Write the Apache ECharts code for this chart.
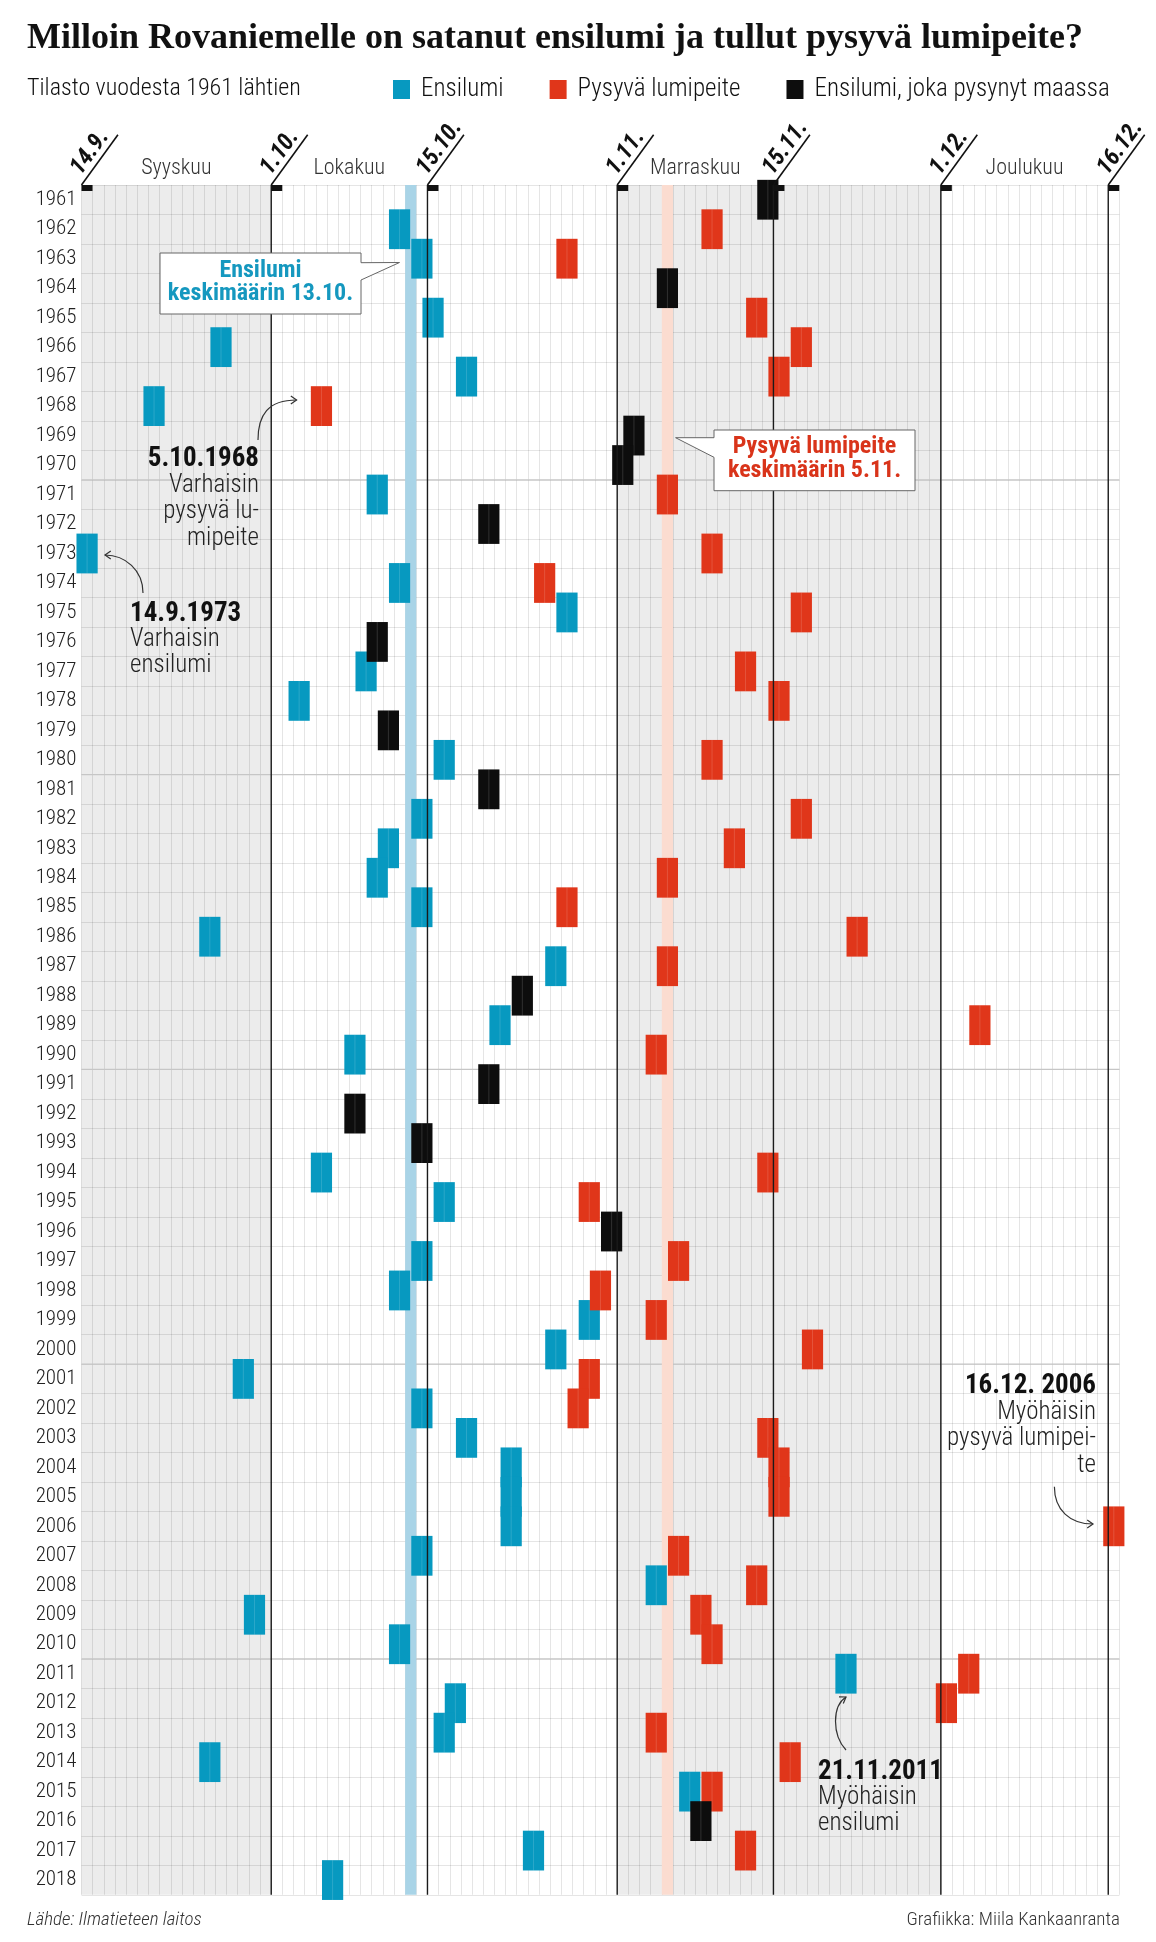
<!DOCTYPE html>
<html lang="fi">
<head>
<meta charset="UTF-8">
<title>Milloin Rovaniemelle on satanut ensilumi ja tullut pysyvä lumipeite?</title>
<script src="https://cdn.jsdelivr.net/npm/echarts@6/dist/echarts.min.js"></script>
<style>
    html, body { margin: 0; padding: 0; background: #fff; }
    #chart { width: 1156px; height: 1942px; }
</style>
</head>
<body>
<div id="chart"></div>
<script>
    const years = [
        '1961', '1962', '1963', '1964', '1965', '1966', '1967', '1968', '1969', '1970',
        '1971', '1972', '1973', '1974', '1975', '1976', '1977', '1978', '1979', '1980',
        '1981', '1982', '1983', '1984', '1985', '1986', '1987', '1988', '1989', '1990',
        '1991', '1992', '1993', '1994', '1995', '1996', '1997', '1998', '1999', '2000',
        '2001', '2002', '2003', '2004', '2005', '2006', '2007', '2008', '2009', '2010',
        '2011', '2012', '2013', '2014', '2015', '2016', '2017', '2018'
    ];
    // ensilumen päivä
    const ensilumi = [
        '14.11.', '12.10.', '14.10.', '5.11.', '15.10.', '26.9.', '18.10.', '20.9.', '2.11.', '1.11.',
        '10.10.', '20.10.', '14.9.', '12.10.', '27.10.', '10.10.', '9.10.', '3.10.', '11.10.', '16.10.',
        '20.10.', '14.10.', '11.10.', '10.10.', '14.10.', '25.9.', '26.10.', '23.10.', '21.10.', '8.10.',
        '20.10.', '8.10.', '14.10.', '5.10.', '16.10.', '31.10.', '14.10.', '12.10.', '29.10.', '26.10.',
        '28.9.', '14.10.', '18.10.', '22.10.', '22.10.', '22.10.', '14.10.', '4.11.', '29.9.', '12.10.',
        '21.11.', '17.10.', '16.10.', '25.9.', '7.11.', '8.11.', '24.10.', '6.10.'
    ];
    // pysyvän lumipeitteen päivä (2018 puuttuu)
    const pysyva = [
        '14.11.', '9.11.', '27.10.', '5.11.', '13.11.', '17.11.', '15.11.', '5.10.', '2.11.', '1.11.',
        '5.11.', '20.10.', '9.11.', '25.10.', '17.11.', '10.10.', '12.11.', '15.11.', '11.10.', '9.11.',
        '20.10.', '17.11.', '11.11.', '5.11.', '27.10.', '22.11.', '5.11.', '23.10.', '4.12.', '4.11.',
        '20.10.', '8.10.', '14.10.', '14.11.', '29.10.', '31.10.', '6.11.', '30.10.', '4.11.', '18.11.',
        '29.10.', '28.10.', '14.11.', '15.11.', '15.11.', '16.12.', '6.11.', '13.11.', '8.11.', '9.11.',
        '3.12.', '1.12.', '4.11.', '16.11.', '9.11.', '8.11.', '12.11.', null
    ];
    const tickDates = ['14.9.', '1.10.', '15.10.', '1.11.', '15.11.', '1.12.', '16.12.'];
    const lineDates = ['1.10.', '15.10.', '1.11.', '15.11.', '1.12.', '16.12.'];
    const monthNames = ['Syyskuu', 'Lokakuu', 'Marraskuu', 'Joulukuu'];
    const monthSpans = [['14.9.', '1.10.'], ['1.10.', '15.10.'], ['1.11.', '15.11.'], ['1.12.', '16.12.']];
    const shadedSpans = [['14.9.', '1.10.'], ['1.11.', '1.12.']];
    const decadeStarts = ['1971', '1981', '1991', '2001', '2011'];
    const ensilumiMean = '13.10.';
    const pysyvaMean = '5.11.';

    const FONT = "'Roboto Condensed', Roboto, sans-serif";
    const BLUE = '#0799c0', RED = '#e0361a', BLACK = '#0d0d0d';

    // päiväindeksi kuvan omalla asteikolla: 14.9. = 0 (alkuperäisessä marraskuusta puuttuu yksi päivä)
    const monthBase = { 9: -14, 10: 16, 11: 47, 12: 76 };
    function dayIndex(s) {
        const parts = s.split('.');
        return monthBase[+parts[1]] + (+parts[0]);
    }

    const blueData = [], redData = [], blackData = [];
    years.forEach((y, k) => {
        const e = ensilumi[k], p = pysyva[k];
        if (p && e === p) {
            blackData.push([dayIndex(e), k]);
        } else {
            blueData.push([dayIndex(e), k]);
            if (p) redData.push([dayIndex(p), k]);
        }
    });

    function markerItem(params, api) {
        const c = api.coord([api.value(0) + 0.5, api.value(1)]);
        const s = api.size([1, 1]);
        const w = s[0] * 1.9, h = s[1] * 1.35;
        return {
            type: 'group',
            children: [
                { type: 'rect', shape: { x: c[0] - w / 2, y: c[1] - h / 2, width: w, height: h }, style: { fill: api.visual('color') } },
                { type: 'line', shape: { x1: c[0], y1: c[1] - h / 2, x2: c[0], y2: c[1] + h / 2 }, style: { stroke: 'rgba(255,255,255,0.15)', lineWidth: 1 } }
            ]
        };
    }

    function bandItem(color) {
        return function (params, api) {
            const cs = params.coordSys;
            const x0 = api.coord([api.value(0), 0])[0];
            const x1 = api.coord([api.value(0) + 1, 0])[0];
            return { type: 'rect', shape: { x: x0, y: cs.y, width: x1 - x0, height: cs.height }, style: { fill: color } };
        };
    }

    function arrow(x1, y1, cx1, cy1, cx2, cy2, x2, y2) {
        const a = Math.atan2(y2 - cy2, x2 - cx2);
        const L = 7, sp = 0.6;
        return [
            { type: 'bezierCurve', z: 10, shape: { x1: x1, y1: y1, cpx1: cx1, cpy1: cy1, cpx2: cx2, cpy2: cy2, x2: x2, y2: y2 }, style: { stroke: '#333', lineWidth: 1.2, fill: 'none' } },
            { type: 'polyline', z: 10, shape: { points: [[x2 - L * Math.cos(a - sp), y2 - L * Math.sin(a - sp)], [x2, y2], [x2 - L * Math.cos(a + sp), y2 - L * Math.sin(a + sp)]] }, style: { stroke: '#333', lineWidth: 1.2, fill: 'none' } }
        ];
    }

    function note(x, y, align, head, body, lh) {
        return [
            { type: 'text', z: 10, x: x, y: y, style: { text: head, fontFamily: FONT, fontWeight: 'bold', fontSize: 27, fill: '#111', align: align, verticalAlign: 'middle' } },
            { type: 'text', z: 10, x: x, y: y + 13, style: { text: body, fontFamily: FONT, fontWeight: 300, fontSize: 25, lineHeight: lh, fill: '#222', align: align, verticalAlign: 'top' } }
        ];
    }

    const chart = echarts.init(document.getElementById('chart'), null, { renderer: 'canvas' });

    const option = {
        backgroundColor: '#fff',
        animation: false,
        title: {
            text: 'Milloin Rovaniemelle on satanut ensilumi ja tullut pysyvä lumipeite?',
            subtext: 'Tilasto vuodesta 1961 lähtien',
            left: 22,
            top: 16,
            itemGap: 20,
            textStyle: { fontFamily: "'Liberation Serif', serif", fontWeight: 'bold', fontSize: 36, color: '#111' },
            subtextStyle: { fontFamily: FONT, fontWeight: 300, fontSize: 24, color: '#111' }
        },
        legend: {
            left: 388,
            top: 72,
            icon: 'rect',
            itemWidth: 17,
            itemHeight: 19,
            itemGap: 46,
            textStyle: { fontFamily: FONT, fontWeight: 300, fontSize: 25, color: '#111', padding: [0, 0, 0, 6] },
            data: ['Ensilumi', 'Pysyvä lumipeite', 'Ensilumi, joka pysynyt maassa']
        },
        grid: { left: 81.5, right: 36.6, top: 185, bottom: 47.2, containLabel: false },
        xAxis: {
            type: 'value',
            min: 0,
            max: 93,
            interval: 1,
            z: 1.5,
            axisLine: { show: false },
            axisTick: { show: false },
            axisLabel: { show: false },
            splitLine: { show: true, lineStyle: { color: 'rgba(0,0,0,0.1)', width: 1 } }
        },
        yAxis: {
            type: 'category',
            data: years,
            inverse: true,
            z: 1.5,
            axisLine: { show: false },
            axisTick: { show: false },
            axisLabel: { interval: 0, margin: 5, fontFamily: FONT, fontWeight: 300, fontSize: 21, color: '#222', padding: [5, 0, 0, 0] },
            splitLine: { show: true, interval: 0, lineStyle: { color: 'rgba(0,0,0,0.1)', width: 1 } }
        },
        series: [
            {
                type: 'custom',
                name: 'tausta',
                z: 1,
                silent: true,
                data: shadedSpans.map(s => [dayIndex(s[0]), dayIndex(s[1])]),
                renderItem: function (params, api) {
                    const cs = params.coordSys;
                    const x0 = api.coord([api.value(0), 0])[0];
                    const x1 = api.coord([api.value(1), 0])[0];
                    return { type: 'rect', shape: { x: x0, y: cs.y, width: x1 - x0, height: cs.height }, style: { fill: '#ececec' } };
                }
            },
            {
                type: 'custom',
                name: 'vuosikymmenet',
                z: 1.6,
                silent: true,
                data: decadeStarts.map(y => [0, years.indexOf(y)]),
                renderItem: function (params, api) {
                    const cs = params.coordSys;
                    const y = api.coord([0, api.value(1)])[1] - api.size([1, 1])[1] / 2;
                    return { type: 'line', shape: { x1: cs.x, y1: y, x2: cs.x + cs.width, y2: y }, style: { stroke: '#c6c6c6', lineWidth: 1.2 } };
                }
            },
            {
                type: 'custom',
                name: 'ensilumi keskimäärin',
                z: 1.8,
                silent: true,
                data: [[dayIndex(ensilumiMean), 0]],
                renderItem: bandItem('#a9d4e7')
            },
            {
                type: 'custom',
                name: 'lumipeite keskimäärin',
                z: 1.8,
                silent: true,
                data: [[dayIndex(pysyvaMean), 0]],
                renderItem: bandItem('#fbdcd0')
            },
            {
                type: 'custom',
                name: 'Ensilumi',
                z: 2,
                itemStyle: { color: BLUE },
                data: blueData,
                renderItem: markerItem
            },
            {
                type: 'custom',
                name: 'Pysyvä lumipeite',
                z: 2.1,
                itemStyle: { color: RED },
                data: redData,
                renderItem: markerItem
            },
            {
                type: 'custom',
                name: 'Ensilumi, joka pysynyt maassa',
                z: 2.2,
                itemStyle: { color: BLACK },
                data: blackData,
                renderItem: markerItem
            },
            {
                type: 'custom',
                name: 'kuukausiviivat',
                z: 3,
                silent: true,
                data: lineDates.map(d => [dayIndex(d), 0]),
                renderItem: function (params, api) {
                    const cs = params.coordSys;
                    const x = api.coord([api.value(0), 0])[0];
                    return { type: 'line', shape: { x1: x, y1: cs.y, x2: x, y2: cs.y + cs.height }, style: { stroke: '#1a1a1a', lineWidth: 1.4 } };
                }
            },
            {
                type: 'custom',
                name: 'päivämäärät',
                z: 3,
                silent: true,
                data: tickDates.map(d => [dayIndex(d), 0]),
                renderItem: function (params, api) {
                    const cs = params.coordSys;
                    const x = api.coord([api.value(0), 0])[0];
                    const top = cs.y;
                    const ang = 54 * Math.PI / 180;
                    const len = 62;
                    return {
                        type: 'group',
                        children: [
                            { type: 'rect', shape: { x: x, y: top, width: 11, height: 6 }, style: { fill: '#111' } },
                            { type: 'line', shape: { x1: x, y1: top, x2: x + len * Math.cos(ang), y2: top - len * Math.sin(ang) }, style: { stroke: '#111', lineWidth: 1.6 } },
                            {
                                type: 'text',
                                x: x + 7 * Math.cos(ang),
                                y: top - 7 * Math.sin(ang),
                                rotation: ang,
                                style: { text: tickDates[params.dataIndex], fontFamily: FONT, fontStyle: 'italic', fontWeight: 'bold', fontSize: 24, fill: '#111', align: 'left', verticalAlign: 'bottom' }
                            }
                        ]
                    };
                }
            },
            {
                type: 'custom',
                name: 'kuukaudet',
                z: 3,
                silent: true,
                data: monthSpans.map(s => [(dayIndex(s[0]) + dayIndex(s[1])) / 2, 0]),
                renderItem: function (params, api) {
                    const cs = params.coordSys;
                    const x = api.coord([api.value(0), 0])[0];
                    return {
                        type: 'text',
                        x: x,
                        y: cs.y - 17,
                        style: { text: monthNames[params.dataIndex], fontFamily: FONT, fontWeight: 300, fontSize: 22, fill: '#333', align: 'center', verticalAlign: 'middle' }
                    };
                }
            }
        ],
        graphic: [
            // Ensilumi keskimäärin -laatikko
            { type: 'polygon', z: 10, shape: { points: [[160, 253], [361, 253], [361, 262.7], [399.5, 262.5], [361, 280], [361, 314], [160, 314]] }, style: { fill: '#fff', stroke: '#666', lineWidth: 1 } },
            { type: 'text', z: 11, x: 260.5, y: 282, style: { text: 'Ensilumi\nkeskimäärin 13.10.', fontFamily: FONT, fontWeight: 'bold', fontSize: 24, lineHeight: 23, fill: '#1598bf', align: 'center', verticalAlign: 'middle' } },
            // Pysyvä lumipeite keskimäärin -laatikko
            { type: 'polygon', z: 10, shape: { points: [[714, 430], [915, 430], [915, 490.7], [714, 490.7], [714, 457.3], [675.6, 437.7], [714, 437.7]] }, style: { fill: '#fff', stroke: '#666', lineWidth: 1 } },
            { type: 'text', z: 11, x: 814.5, y: 459, style: { text: 'Pysyvä lumipeite\nkeskimäärin 5.11.', fontFamily: FONT, fontWeight: 'bold', fontSize: 24, lineHeight: 23.3, fill: '#d9341a', align: 'center', verticalAlign: 'middle' } },

            ...note(259, 459, 'right', '5.10.1968', 'Varhaisin\npysyvä lu-\nmipeite', 26.5),
            ...arrow(258, 440, 258, 415, 268, 400, 296.6, 400),

            ...note(130, 614, 'left', '14.9.1973', 'Varhaisin\nensilumi', 26),
            ...arrow(143, 593, 143, 570, 125, 555, 105, 555),

            ...note(1096, 1386, 'right', '16.12. 2006', 'Myöhäisin\npysyvä lumipei-\nte', 26.5),
            ...arrow(1054.4, 1486.7, 1054.4, 1510, 1070, 1524, 1093, 1524),

            ...note(818, 1772, 'left', '21.11.2011', 'Myöhäisin\nensilumi', 26),
            ...arrow(846, 1750, 832, 1735, 832, 1706, 846, 1697),

            { type: 'text', z: 10, x: 27, y: 1920, style: { text: 'Lähde: Ilmatieteen laitos', fontFamily: FONT, fontStyle: 'italic', fontWeight: 300, fontSize: 19, fill: '#333', align: 'left', verticalAlign: 'middle' } },
            { type: 'text', z: 10, x: 1120, y: 1920, style: { text: 'Grafiikka: Miila Kankaanranta', fontFamily: FONT, fontWeight: 300, fontSize: 19, fill: '#333', align: 'right', verticalAlign: 'middle' } }
        ]
    };

    chart.setOption(option);
</script>
</body>
</html>
